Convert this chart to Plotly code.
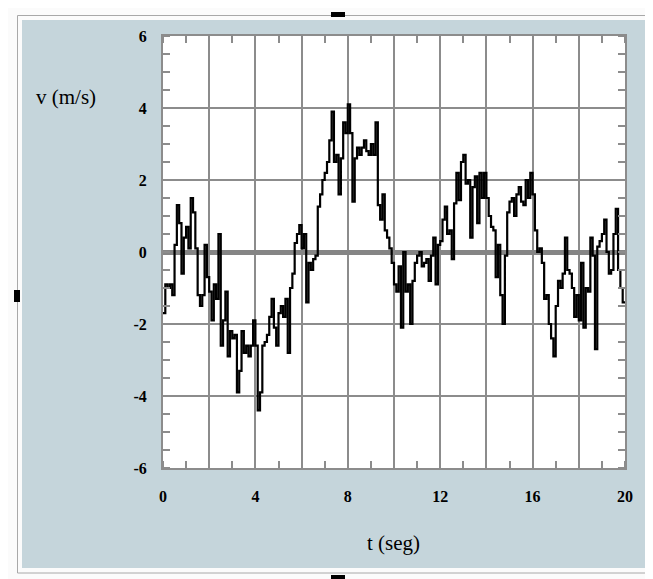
import plotly.graph_objects as go

# ---- data ----
t_values = [round(i * 0.1, 1) for i in range(201)]
v_values = [
    -1.7, -0.9, -1.0, -0.9, -1.2, 0.2, 1.3, 0.8, -0.6, 0.4,
    0.7, 0.1, 1.5, 1.1, 0.1, -1.2, -1.5, -1.2, 0.2, -0.7,
    -1.1, -1.9, -0.9, -1.3, 0.5, -2.6, -1.9, -1.1, -2.9, -2.2,
    -2.4, -2.3, -3.9, -3.3, -2.2, -2.8, -2.6, -2.9, -2.6, -1.9,
    -2.6, -4.4, -3.9, -2.6, -2.5, -2.3, -1.8, -1.3, -2.1, -2.6,
    -1.7, -1.5, -1.8, -1.3, -2.8, -1.0, -0.6, 0.25, 0.5, 0.75,
    0.1, 0.5, -1.4, -0.3, -0.5, -0.2, -0.1, 1.26, 1.6, 2.0,
    2.2, 2.5, 3.1, 3.9, 2.5, 2.7, 1.6, 2.6, 3.6, 3.3,
    4.1, 3.3, 1.4, 2.6, 2.9, 2.7, 2.9, 3.1, 2.8, 2.7,
    3.0, 2.7, 3.6, 1.3, 0.9, 1.6, 0.6, 0.4, 0.1, -0.3,
    -0.9, -1.1, -0.4, -2.1, 0.0, -1.1, -0.9, -2.0, -0.8, -0.3,
    -0.1, 0.0, -0.4, -0.3, -0.2, -0.8, -0.1, 0.4, -0.9, 0.2,
    0.3, 0.9, 1.26, 0.5, 0.6, -0.2, 1.35, 2.2, 1.44, 2.5,
    2.7, 1.9, 2.0, 0.4, 1.8, 2.1, 0.8, 2.2, 1.5, 2.2,
    1.5, 1.0, 0.7, 0.6, -0.7, 0.2, -1.2, -2.0, -0.1, 1.1,
    1.4, 1.5, 1.0, 1.6, 1.8, 1.4, 1.3, 2.0, 1.5, 2.2,
    1.6, 0.6, 0.0, 0.1, -0.3, -1.3, -1.2, -2.0, -2.4, -2.9,
    -1.5, -0.8, -1.0, -0.6, 0.4, -0.5, -0.6, -1.0, -1.8, -1.2,
    -1.9, -0.3, -2.1, -1.0, -1.1, 0.4, -0.1, -2.7, 0.15, 0.3,
    0.5, 0.9, 0.0, -0.6, -0.5, 0.5, 1.2, -0.5, -1.0, -1.4,
    -1.4,
]
x_tick_vals = [0, 2, 4, 6, 8, 10, 12, 14, 16, 18, 20]
x_tick_text = ["0", "", "4", "", "8", "", "12", "", "16", "", "20"]
y_tick_vals = [-6, -4, -2, 0, 2, 4, 6]
y_tick_text = ["-6", "-4", "-2", "0", "2", "4", "6"]
x_title = "t (seg)"
y_title = "v (m/s)"

# ---- layout geometry (page coordinates; the page body has an 8px margin) ----
OFF = 8
W, H = 645, 571
PLOT_L, PLOT_R, PLOT_T, PLOT_B = 163, 625, 36, 468   # page px
L = PLOT_L - OFF
T = PLOT_T - OFF
R = W - (PLOT_R - OFF)
B = H - (PLOT_B - OFF)
PW, PH = W - L - R, H - T - B


def px_x(px):
    return (px - OFF - L) / PW


def px_y(py):
    return (H - B - (py - OFF)) / PH


GRID = "#8c8c8c"
FRAME_BG = "#c5d5db"
SERIF = "Liberation Serif, Times New Roman, serif"

fig = go.Figure()
fig.add_trace(go.Scatter(
    x=t_values, y=v_values, mode="lines",
    line=dict(color="black", width=2.2, shape="hv"),
    showlegend=False, hoverinfo="skip",
))

shapes = [
    dict(type="rect", xref="paper", yref="paper", layer="below",
         x0=px_x(17.5), x1=px_x(700), y0=px_y(573), y1=px_y(15.5),
         line=dict(color="#a8a8a8", width=1), fillcolor="#fbfbfb"),
    dict(type="rect", xref="paper", yref="paper", layer="below",
         x0=px_x(22), x1=px_x(700), y0=px_y(568), y1=px_y(20),
         line=dict(width=0), fillcolor=FRAME_BG),
    dict(type="rect", xref="paper", yref="paper", layer="below",
         x0=0, x1=1, y0=0, y1=1, line=dict(width=0), fillcolor="white"),
    # selection handles
    dict(type="rect", xref="paper", yref="paper", layer="above",
         x0=px_x(331), x1=px_x(345), y0=px_y(17), y1=px_y(12),
         line=dict(width=0), fillcolor="black"),
    dict(type="rect", xref="paper", yref="paper", layer="above",
         x0=px_x(14), x1=px_x(20), y0=px_y(302), y1=px_y(290),
         line=dict(width=0), fillcolor="black"),
    dict(type="rect", xref="paper", yref="paper", layer="above",
         x0=px_x(331), x1=px_x(345), y0=px_y(582), y1=px_y(575),
         line=dict(width=0), fillcolor="black"),
]

annotations = [
    dict(text=y_title, xref="paper", yref="paper", x=px_x(66), y=px_y(97),
         showarrow=False, xanchor="center", yanchor="middle",
         font=dict(family=SERIF, size=21, color="black")),
    dict(text=x_title, xref="paper", yref="paper", x=px_x(393), y=px_y(543),
         showarrow=False, xanchor="center", yanchor="middle",
         font=dict(family=SERIF, size=21, color="black")),
]

fig.update_layout(
    width=W, height=H,
    margin=dict(l=L, r=R, t=T, b=B, pad=0),
    paper_bgcolor="#fbfbfb", plot_bgcolor="white",
    shapes=shapes, annotations=annotations,
    showlegend=False,
    xaxis=dict(
        range=[0, 20], tickmode="array", tickvals=x_tick_vals, ticktext=x_tick_text,
        showgrid=True, gridcolor=GRID, gridwidth=1.5,
        zeroline=False, showline=True, linecolor=GRID, linewidth=2, mirror="ticks",
        ticks="", ticklabelstandoff=13,
        tickfont=dict(family=SERIF, size=16, color="black", weight="bold"),
        minor=dict(dtick=1, tick0=0, ticks="inside", ticklen=7, tickcolor=GRID,
                   tickwidth=1.5, showgrid=False),
        fixedrange=True,
    ),
    yaxis=dict(
        range=[-6, 6], tickmode="array", tickvals=y_tick_vals, ticktext=y_tick_text,
        showgrid=True, gridcolor=GRID, gridwidth=1.5,
        zeroline=True, zerolinecolor="#858585", zerolinewidth=5,
        showline=True, linecolor=GRID, linewidth=2, mirror="ticks",
        ticks="", ticklabelstandoff=11,
        tickfont=dict(family=SERIF, size=16, color="black", weight="bold"),
        minor=dict(dtick=0.5, tick0=0, ticks="inside", ticklen=7, tickcolor=GRID,
                   tickwidth=1.5, showgrid=False),
        fixedrange=True,
    ),
)

fig.write_html("out.html")
